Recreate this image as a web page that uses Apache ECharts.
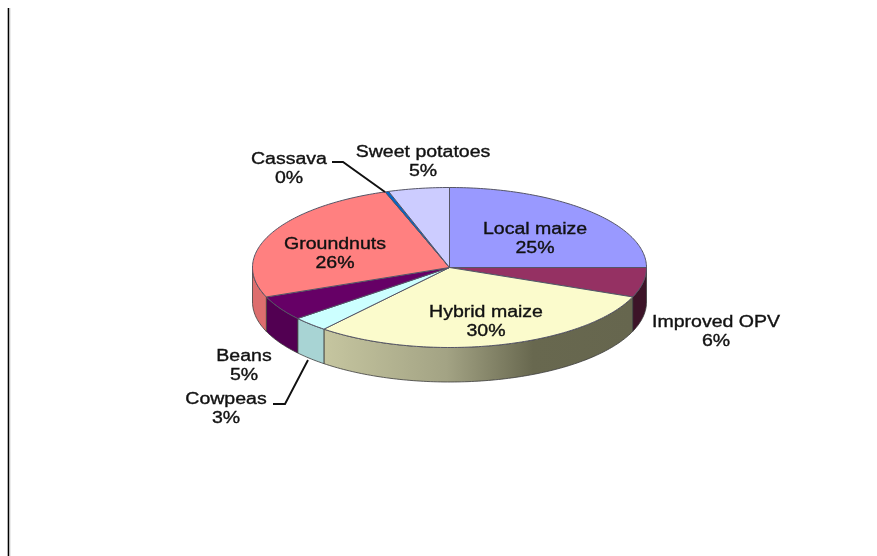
<!DOCTYPE html>
<html>
<head>
<meta charset="utf-8">
<style>
html,body{margin:0;padding:0;background:#fff}
#c{width:877px;height:556px;filter:blur(0.55px)}
</style>
<script src="https://cdn.jsdelivr.net/npm/echarts@6/dist/echarts.min.js"></script>
</head>
<body>
<div id="c"></div>
<script>
const categories = ['Local maize','Improved OPV','Hybrid maize','Cowpeas','Beans','Groundnuts','Cassava','Sweet potatoes'];
const values = [25, 6, 30, 3, 5, 25.7, 0.3, 5];

const topColors = ['#9999ff','#953163','#fbfbcc','#ccffff','#660066','#ff8080','#0066cc','#ccccff'];
const sideColors = ['#6b6bb3','#3d1428',null,'#a8d4d4','#520052','#dd6e6e','#004a94','#9a9ac4'];

const geo = {cx:449.5, cy:267.5, rx:197, ry:80, depth:34.5};
const labelAnchors = [[535,229.5],[716,322.5],[486,312.5],[226,399.5],[244,356.5],[335,244.5],[289,159.5],[423,152.5]];
const leaders = {3:[[273,404],[285,404],[308,360]], 6:[[332,162],[343,162],[385,192]]};

const total = values.reduce((a,b)=>a+b,0);
const point = (deg,dy)=>{
  const r = deg*Math.PI/180;
  return [geo.cx+geo.rx*Math.sin(r), geo.cy-geo.ry*Math.cos(r)+(dy||0)];
};
const arc = (a,b,dy)=>{
  const pts=[];
  const n=Math.max(1,Math.ceil(Math.abs(b-a)));
  for(let i=0;i<=n;i++) pts.push(point(a+(b-a)*i/n,dy));
  return pts;
};
const hybridSide = new echarts.graphic.LinearGradient(323,0,632,0,[
  {offset:0,color:'#c6c6a0'},
  {offset:0.4,color:'#a3a384'},
  {offset:0.68,color:'#68684f'},
  {offset:1,color:'#66664e'}
],true);

function renderItem(params, api){
  const i = params.dataIndex;
  let start = 0;
  for(let k=0;k<i;k++) start += values[k];
  const a = start/total*360, b = (start+api.value(0))/total*360;
  const children = [];
  const sa = Math.max(a,90), sb = Math.min(b,270);
  if(sb>sa){
    const upper = arc(sa,sb,0), lower = arc(sb,sa,geo.depth);
    children.push({type:'polygon',shape:{points:upper.concat(lower)},
      style:{fill:sideColors[i]||hybridSide,stroke:'#3c3c3c',lineWidth:0.8}});
  }
  children.push({type:'polygon',shape:{points:[[geo.cx,geo.cy]].concat(arc(a,b,0))},
    style:{fill:topColors[i],stroke:'#555566',lineWidth:1}});
  return {type:'group',children};
}

function renderLabels(params, api){
  const i = params.dataIndex;
  const [x,y] = labelAnchors[i];
  const children = [];
  const pct = Math.round(api.value(0)/total*100)+'%';
  [categories[i],pct].forEach((t,k)=>{
    children.push({type:'text',x:x,y:y+k*19,scaleX:1.22,
      style:{x:0,y:0,text:t,align:'center',verticalAlign:'middle',
        font:'16px "Liberation Sans", Arial, sans-serif',fill:'#111',stroke:'#111',lineWidth:0.35}});
  });
  if(leaders[i]) children.push({type:'polyline',shape:{points:leaders[i]},
    style:{fill:'none',stroke:'#111',lineWidth:1.9}});
  return {type:'group',children};
}

const chart = echarts.init(document.getElementById('c'));
chart.setOption({
  animation:false,
  backgroundColor:'#fff',
  tooltip:{show:false},
  graphic:[
    {type:'line',shape:{x1:8.5,y1:8,x2:8.5,y2:556},style:{stroke:'#000',lineWidth:1.6}},
    {type:'line',shape:{x1:9.8,y1:8,x2:9.8,y2:556},style:{stroke:'#bbb',lineWidth:1}}
  ],
  series:[
    {type:'custom',coordinateSystem:'none',renderItem,z:2,silent:true,
      data:values.map((v,i)=>({name:categories[i],value:[v]}))},
    {type:'custom',coordinateSystem:'none',renderItem:renderLabels,z:3,silent:true,
      data:values.map((v,i)=>({name:categories[i],value:[v]}))}
  ]
});
</script>
</body>
</html>
